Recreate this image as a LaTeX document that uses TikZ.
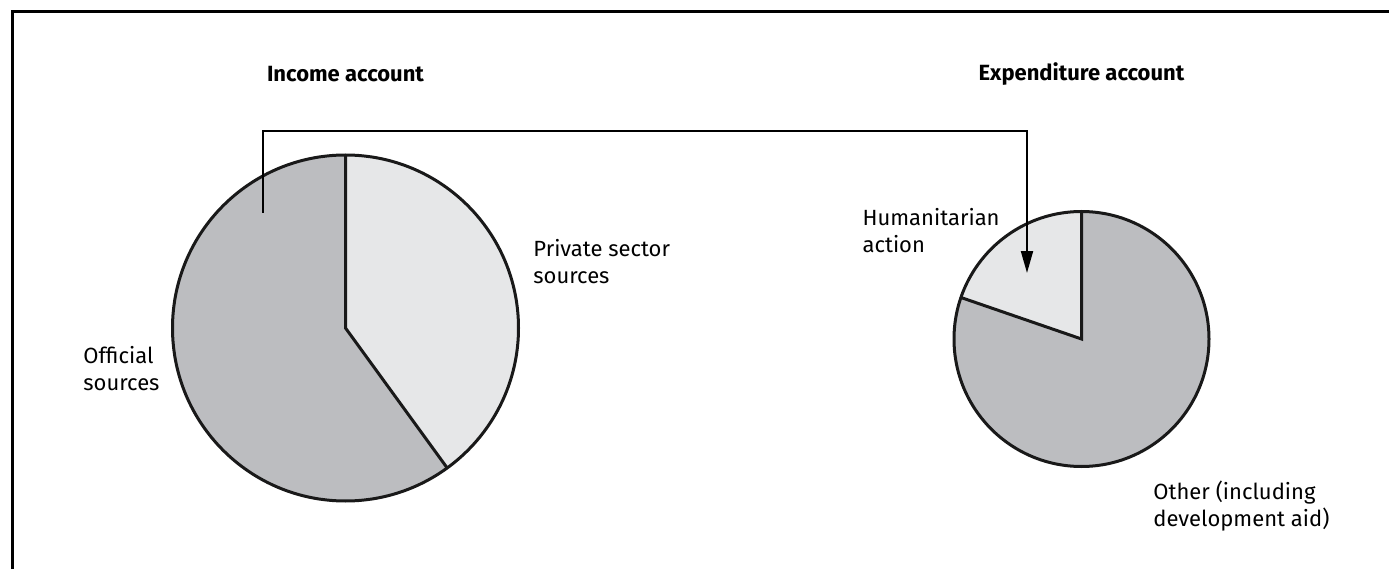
\documentclass[tikz,border=0pt]{standalone}
\usepackage{fontspec}
\setmainfont{Fira Sans}
\usetikzlibrary{arrows.meta}
\definecolor{darkslice}{HTML}{BCBDC0}
\definecolor{lightslice}{HTML}{E6E7E8}
\begin{document}
\begin{tikzpicture}[x=0.5pt,y=0.5pt,
    pieline/.style={line width=1.5pt, draw=black!90},
    lbl/.style={anchor=west, align=left, inner sep=0pt, font=\fontsize{11}{13.5}\selectfont},
    heading/.style={inner sep=0pt, font=\fontsize{11}{13}\selectfont\bfseries},
    flow/.style={line width=1pt, -{Triangle[length=11pt,width=6pt]}}]
    \useasboundingbox (0,0) rectangle (1389,569);
    \draw[line width=1.5pt] (12,0) -- (12,557) -- (1389,557);
    \def\rinc{86.5pt}
    \def\rexp{63.75pt}
    \coordinate (inc) at (345.5,241);
    \coordinate (exp) at (1081.5,230);
    \fill[darkslice] (inc) circle[radius=\rinc];
    \fill[lightslice] (inc) -- +(90:\rinc) arc[start angle=90, end angle=-54, radius=\rinc] -- cycle;
    \draw[pieline] (inc) circle[radius=\rinc];
    \draw[pieline] (inc) +(90:\rinc) -- (inc) -- +(-54:\rinc);
    \fill[darkslice] (exp) circle[radius=\rexp];
    \fill[lightslice] (exp) -- +(90:\rexp) arc[start angle=90, end angle=161, radius=\rexp] -- cycle;
    \draw[pieline] (exp) circle[radius=\rexp];
    \draw[pieline] (exp) +(90:\rexp) -- (exp) -- +(161:\rexp);
    \node[heading] (inctitle) at (345.5,495) {Income account};
    \node[heading] (exptitle) at (1081.5,495) {Expenditure account};
    \node[lbl] (private) at (533,307) {Private sector\\sources};
    \node[lbl] (official) at (83,200) {Official\\sources};
    \node[lbl, anchor=north east] (human) at (1000,361) {Humanitarian\\action};
    \node[lbl] (other) at (1153,63) {Other (including\\development aid)};
    \coordinate (from) at (263,356);
    \coordinate (bend) at (263,438);
    \coordinate (to) at (1027,296);
    \draw[flow] (from) -- (bend) -| (to);
\end{tikzpicture}
\end{document}
